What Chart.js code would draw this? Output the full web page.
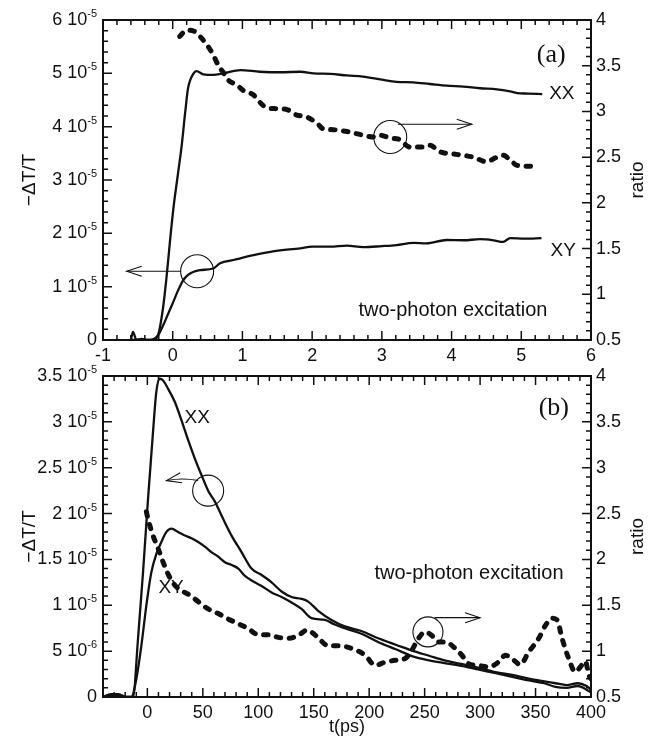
<!DOCTYPE html>
<html>
<head>
<meta charset="utf-8">
<script src="https://cdn.jsdelivr.net/npm/chart.js@4.4.1/dist/chart.umd.min.js"></script>
<style>
  body { margin: 0; background: #fff; }
  #wrap { position: relative; width: 665px; height: 743px; }
  canvas { position: absolute; left: 0; }
  #top { top: 0; }
  #bottom { top: 356px; }
</style>
</head>
<body>
<div id="wrap">
  <canvas id="top" width="665" height="372"></canvas>
  <canvas id="bottom" width="665" height="387"></canvas>
</div>
<script>
// panel (a): t in ps, -dT/T in units of 1e-5, ratio on right axis
const topXxT = [-0.6, -0.57, -0.52, -0.45, -0.35, -0.28, -0.21, -0.14, -0.09, -0.04, 0.01, 0.08, 0.13, 0.18, 0.22, 0.30, 0.34, 0.44, 0.58, 0.73, 0.97, 1.25, 1.55, 1.83, 2.02, 2.26, 2.5, 2.73, 3.0, 3.21, 3.45, 3.69, 3.93, 4.17, 4.41, 4.65, 4.84, 4.94, 5.1, 5.3];
const topXxV = [0, 0.15, 0, 0.02, 0, 0, 0.09, 0.59, 1.16, 1.84, 2.47, 3.16, 3.66, 4.28, 4.72, 5.0, 5.04, 4.98, 4.97, 5.0, 5.06, 5.03, 5.02, 5.03, 5.0, 4.99, 4.96, 4.94, 4.88, 4.84, 4.83, 4.80, 4.77, 4.75, 4.72, 4.70, 4.66, 4.63, 4.62, 4.61];
const topXyT = [-0.6, -0.5, -0.4, -0.33, -0.21, -0.135, -0.063, 0.01, 0.08, 0.15, 0.22, 0.30, 0.39, 0.58, 0.68, 0.87, 1.16, 1.44, 1.83, 2.0, 2.26, 2.5, 2.73, 3.0, 3.21, 3.45, 3.64, 3.93, 4.17, 4.41, 4.6, 4.74, 4.84, 5.05, 5.29];
const topXyV = [0, 0, 0, 0, 0.09, 0.28, 0.5, 0.72, 0.94, 1.12, 1.22, 1.28, 1.31, 1.34, 1.44, 1.5, 1.59, 1.66, 1.72, 1.75, 1.75, 1.77, 1.74, 1.76, 1.78, 1.82, 1.81, 1.875, 1.87, 1.89, 1.87, 1.84, 1.91, 1.90, 1.91];
const topRatioT = [0.1, 0.2, 0.3, 0.39, 0.49, 0.58, 0.65, 0.73, 0.8, 0.92, 1.01, 1.16, 1.25, 1.35, 1.49, 1.64, 1.78, 1.92, 2.07, 2.16, 2.3, 2.5, 2.73, 2.88, 2.97, 3.12, 3.26, 3.4, 3.6, 3.69, 3.83, 4.07, 4.31, 4.5, 4.65, 4.74, 4.84, 4.94, 5.13, 5.22];
const topRatioV = [3.82, 3.89, 3.88, 3.82, 3.73, 3.62, 3.51, 3.42, 3.34, 3.29, 3.23, 3.18, 3.10, 3.04, 3.03, 3.02, 2.96, 2.94, 2.87, 2.81, 2.80, 2.78, 2.74, 2.72, 2.74, 2.71, 2.69, 2.61, 2.61, 2.63, 2.56, 2.53, 2.50, 2.45, 2.50, 2.52, 2.47, 2.41, 2.40, 2.39];

// panel (b)
const botXxT = [-40, -33, -26, -19, -13, -8.4, -3.9, 0.6, 5.1, 8.1, 11.2, 14.2, 18.7, 24.7, 30.7, 36.8, 42.8, 48.8, 54.8, 60.9, 68.4, 75.9, 84.9, 93.9, 103, 112, 121, 130, 139, 145, 154, 166, 178, 193, 208, 224, 240, 254, 268, 283, 298, 314, 329, 344, 358, 368, 378, 388, 396, 400];
const botXxV = [0, 0.03, 0.03, 0, 0, 0.64, 1.36, 2.16, 2.89, 3.33, 3.47, 3.45, 3.36, 3.22, 3.02, 2.80, 2.60, 2.42, 2.25, 2.13, 1.94, 1.76, 1.58, 1.40, 1.33, 1.25, 1.15, 1.09, 1.07, 1.04, 0.94, 0.84, 0.77, 0.72, 0.64, 0.57, 0.50, 0.45, 0.40, 0.36, 0.32, 0.27, 0.24, 0.2, 0.17, 0.15, 0.13, 0.15, 0.12, 0.08];
const botXyT = [-40, -30, -20, -14.4, -9.9, -5.4, -0.9, 3.6, 8.1, 12.6, 17.2, 21.7, 27.7, 33.8, 39.8, 45.8, 51.8, 57.8, 63.9, 69.9, 75.9, 82, 88, 94, 103, 112, 121, 130, 139, 148, 160, 169, 178, 193, 208, 224, 240, 254, 268, 283, 298, 314, 329, 344, 358, 368, 378, 388, 396, 400];
const botXyV = [0, 0.02, 0, 0, 0.2, 0.56, 1.0, 1.36, 1.56, 1.69, 1.80, 1.835, 1.80, 1.76, 1.73, 1.69, 1.64, 1.58, 1.53, 1.47, 1.44, 1.40, 1.32, 1.27, 1.21, 1.14, 1.09, 1.03, 0.96, 0.86, 0.84, 0.79, 0.75, 0.69, 0.6, 0.52, 0.44, 0.40, 0.37, 0.34, 0.30, 0.26, 0.22, 0.18, 0.15, 0.11, 0.1, 0.12, 0.08, 0.05];
const botRatioT = [-0.9, 0.6, 5.1, 9.7, 14.2, 18.7, 24.7, 30.7, 38.3, 45.8, 54.8, 63.9, 72.9, 81.9, 91, 100, 109, 118, 127, 136, 144, 150, 156, 163, 172, 184, 196.4, 205.4, 214.4, 223.4, 232.5, 238.5, 244.5, 250.5, 256.5, 262.6, 268.6, 277.6, 283.6, 289.6, 298.7, 307.7, 316.7, 322.8, 328.8, 336.3, 343.8, 352.9, 358.9, 364.9, 369.4, 373.9, 379.9, 385.9, 390.4, 394.9, 398, 400];
const botRatioV = [2.52, 2.44, 2.26, 2.12, 1.97, 1.84, 1.72, 1.66, 1.61, 1.54, 1.46, 1.41, 1.35, 1.30, 1.245, 1.18, 1.18, 1.15, 1.14, 1.17, 1.23, 1.19, 1.12, 1.06, 1.06, 1.03, 0.955, 0.845, 0.88, 0.9, 0.92, 1.01, 1.14, 1.21, 1.17, 1.1, 1.1, 1.03, 0.955, 0.864, 0.845, 0.827, 0.882, 0.955, 0.918, 0.853, 0.99, 1.14, 1.28, 1.36, 1.34, 1.14, 0.918, 0.773, 0.827, 0.89, 0.74, 0.7];

// tick values and labels ('^' marks the power of ten)
const topXTicks = [-1, 0, 1, 2, 3, 4, 5, 6];
const topXLabels = ['-1', '0', '1', '2', '3', '4', '5', '6'];
const topLeftTicks = [0, 1, 2, 3, 4, 5, 6];
const topLeftLabels = ['0', '1 10^-5', '2 10^-5', '3 10^-5', '4 10^-5', '5 10^-5', '6 10^-5'];
const botXTicks = [0, 50, 100, 150, 200, 250, 300, 350, 400];
const botXLabels = ['0', '50', '100', '150', '200', '250', '300', '350', '400'];
const botLeftTicks = [0, 0.5, 1, 1.5, 2, 2.5, 3, 3.5];
const botLeftLabels = ['0', '5 10^-6', '1 10^-5', '1.5 10^-5', '2 10^-5', '2.5 10^-5', '3 10^-5', '3.5 10^-5'];
const ratioTicks = [0.5, 1, 1.5, 2, 2.5, 3, 3.5, 4];
const ratioLabels = ['0.5', '1', '1.5', '2', '2.5', '3', '3.5', '4'];

const INK = '#111';
const SANS = '"Liberation Sans", Arial, Helvetica, sans-serif';
const SERIF = '"Liberation Serif", "Times New Roman", serif';
Chart.defaults.font.family = SANS;
Chart.defaults.color = INK;

// annotations, placed in data units
const topNotes = {
  texts: [
    { x: 5.43, y: 3.61, axis: 'ratio', text: '(a)', font: '26px ' + SERIF, align: 'center' },
    { x: 5.40, y: 4.61, axis: 'y', text: 'XX', font: '19px ' + SANS, align: 'left' },
    { x: 5.42, y: 1.67, axis: 'y', text: 'XY', font: '19px ' + SANS, align: 'left' },
    { x: 4.02, y: 0.56, axis: 'y', text: 'two-photon excitation', font: '20px ' + SANS, align: 'center' }
  ],
  circles: [
    { x: 0.35, y: 1.29, axis: 'y', r: 16.5 },
    { x: 3.12, y: 2.72, axis: 'ratio', r: 16.5 }
  ],
  arrows: [
    { x1: 0.12, y1: 1.29, x2: -0.66, y2: 1.29, axis: 'y', bend: 0 },
    { x1: 3.23, y1: 2.86, x2: 4.29, y2: 2.86, axis: 'ratio', bend: 0 }
  ]
};
const botNotes = {
  texts: [
    { x: 366.5, y: 3.65, axis: 'ratio', text: '(b)', font: '26px ' + SERIF, align: 'center' },
    { x: 45, y: 3.05, axis: 'y', text: 'XX', font: '19px ' + SANS, align: 'center' },
    { x: 21.4, y: 1.19, axis: 'y', text: 'XY', font: '19px ' + SANS, align: 'center' },
    { x: 290, y: 1.35, axis: 'y', text: 'two-photon excitation', font: '20px ' + SANS, align: 'center' }
  ],
  circles: [
    { x: 54.8, y: 2.25, axis: 'y', r: 15.5 },
    { x: 253, y: 1.21, axis: 'ratio', r: 15 }
  ],
  arrows: [
    { x1: 45.8, y1: 2.36, x2: 17.2, y2: 2.36, axis: 'y', bend: -3 },
    { x1: 259, y1: 1.365, x2: 300, y2: 1.365, axis: 'ratio', bend: 0 }
  ]
};

function pts(xs, ys) {
  return xs.map((x, i) => ({ x: x, y: ys[i] }));
}

function isMajor(v, major) {
  const q = v / major;
  return Math.abs(q - Math.round(q)) < 1e-6;
}

// inward ticks along one side of the plot box
function tickRun(ctx, scale, minor, major, draw) {
  const n = Math.round((scale.max - scale.min) / minor);
  for (let k = 0; k <= n; k++) {
    const v = scale.min + k * minor;
    draw(scale.getPixelForValue(v), isMajor(v, major) ? 9 : 5);
  }
}

function drawSci(ctx, label, xr, y) {
  const [base, exp] = label.split('^');
  ctx.textBaseline = 'middle';
  ctx.textAlign = 'right';
  let x = xr;
  if (exp) {
    ctx.font = '11px ' + SANS;
    ctx.fillText(exp, x, y - 6);
    x -= ctx.measureText(exp).width;
  }
  ctx.font = '18px ' + SANS;
  ctx.fillText(base, x, y);
}

function drawArrow(ctx, x1, y1, x2, y2, bend) {
  const cx = (x1 + x2) / 2, cy = (y1 + y2) / 2 + bend;
  ctx.beginPath();
  ctx.moveTo(x1, y1);
  ctx.quadraticCurveTo(cx, cy, x2, y2);
  ctx.stroke();
  const ang = Math.atan2(y2 - cy, x2 - cx);
  const ux = Math.cos(ang), uy = Math.sin(ang), L = 15, W = 5;
  ctx.beginPath();
  ctx.moveTo(x2 - L * ux + W * uy, y2 - L * uy - W * ux);
  ctx.lineTo(x2, y2);
  ctx.lineTo(x2 - L * ux - W * uy, y2 - L * uy + W * ux);
  ctx.stroke();
}

const framePlugin = {
  id: 'frame',
  afterDatasetsDraw(chart, args, o) {
    const ctx = chart.ctx, a = chart.chartArea, s = chart.scales;
    ctx.save();
    ctx.strokeStyle = INK;
    ctx.fillStyle = INK;

    ctx.lineWidth = 1.5;
    ctx.beginPath();
    tickRun(ctx, s.x, o.xMinor, o.xMajor, (p, len) => {
      ctx.moveTo(p, a.bottom); ctx.lineTo(p, a.bottom - len);
      ctx.moveTo(p, a.top); ctx.lineTo(p, a.top + len);
    });
    tickRun(ctx, s.y, o.yMinor, o.yMajor, (p, len) => {
      ctx.moveTo(a.left, p); ctx.lineTo(a.left + len, p);
    });
    tickRun(ctx, s.ratio, 0.1, 0.5, (p, len) => {
      ctx.moveTo(a.right, p); ctx.lineTo(a.right - len, p);
    });
    ctx.stroke();

    ctx.lineWidth = 2;
    ctx.strokeRect(a.left, a.top, a.right - a.left, a.bottom - a.top);

    // left tick labels with powers of ten
    o.leftTicks.forEach((v, i) => drawSci(ctx, o.leftLabels[i], a.left - 6, s.y.getPixelForValue(v)));

    // right axis title, reading bottom to top
    ctx.save();
    ctx.translate(638, (a.top + a.bottom) / 2);
    ctx.rotate(-Math.PI / 2);
    ctx.font = '19px ' + SANS;
    ctx.textAlign = 'center';
    ctx.textBaseline = 'middle';
    ctx.fillText('ratio', 0, 0);
    ctx.restore();

    // circles, arrows and labels
    const notes = o.notes;
    ctx.lineWidth = 1.1;
    notes.circles.forEach(c => {
      ctx.beginPath();
      ctx.arc(s.x.getPixelForValue(c.x), s[c.axis].getPixelForValue(c.y), c.r, 0, Math.PI * 2);
      ctx.stroke();
    });
    notes.arrows.forEach(ar => {
      drawArrow(ctx, s.x.getPixelForValue(ar.x1), s[ar.axis].getPixelForValue(ar.y1),
        s.x.getPixelForValue(ar.x2), s[ar.axis].getPixelForValue(ar.y2), ar.bend);
    });
    notes.texts.forEach(t => {
      ctx.font = t.font;
      ctx.textAlign = t.align;
      ctx.textBaseline = 'middle';
      ctx.fillText(t.text, s.x.getPixelForValue(t.x), s[t.axis].getPixelForValue(t.y));
    });
    ctx.restore();
  }
};

function solid(data) {
  return { data: data, yAxisID: 'y', borderColor: INK, borderWidth: 2.3, pointRadius: 0, cubicInterpolationMode: 'monotone', fill: false };
}
function dashed(data) {
  return { data: data, yAxisID: 'ratio', borderColor: INK, borderWidth: 5, borderDash: [4.5, 8.5], borderCapStyle: 'round', pointRadius: 0, cubicInterpolationMode: 'monotone', fill: false };
}

function setTicks(values) {
  return scale => { scale.ticks = values.map(v => ({ value: v })); };
}

function makePanel(id, cfg) {
  return new Chart(document.getElementById(id), {
    type: 'line',
    data: { datasets: cfg.datasets },
    options: {
      responsive: false,
      animation: false,
      devicePixelRatio: 1,
      layout: { padding: { top: 20, left: 0, right: 0, bottom: 0 } },
      plugins: {
        legend: { display: false },
        tooltip: { enabled: false },
        frame: cfg.frame
      },
      scales: {
        x: {
          type: 'linear', position: 'bottom', min: cfg.xMin, max: cfg.xMax,
          afterBuildTicks: setTicks(cfg.xTicks),
          afterFit: sc => { sc.height = cfg.xHeight; },
          grid: { display: false, drawTicks: false },
          border: { display: false },
          ticks: { font: { size: 18 }, color: INK, padding: 5, maxRotation: 0, autoSkip: false,
            callback: v => cfg.xLabels[cfg.xTicks.indexOf(v)] },
          title: cfg.xTitle
        },
        y: {
          type: 'linear', position: 'left', min: cfg.yMin, max: cfg.yMax,
          afterBuildTicks: setTicks(cfg.frame.leftTicks),
          afterFit: sc => { sc.width = 103; },
          grid: { display: false, drawTicks: false },
          border: { display: false },
          ticks: { display: false },
          title: { display: true, text: '\u2212\u0394T/T', font: { size: 19 }, color: INK, padding: { top: 18.6, bottom: 0 } }
        },
        ratio: {
          axis: 'y', type: 'linear', position: 'right', min: 0.5, max: 4,
          afterBuildTicks: setTicks(ratioTicks),
          afterFit: sc => { sc.width = 74; },
          grid: { display: false, drawTicks: false },
          border: { display: false },
          ticks: { font: { size: 18 }, color: INK, padding: 5,
            callback: v => ratioLabels[ratioTicks.indexOf(v)] }
        }
      }
    },
    plugins: [framePlugin]
  });
}

makePanel('top', {
  datasets: [solid(pts(topXxT, topXxV)), solid(pts(topXyT, topXyV)), dashed(pts(topRatioT, topRatioV))],
  xMin: -1, xMax: 6, xTicks: topXTicks, xLabels: topXLabels, xHeight: 32,
  xTitle: { display: false },
  yMin: 0, yMax: 6,
  frame: { xMinor: 0.2, xMajor: 1, yMinor: 0.2, yMajor: 1, leftTicks: topLeftTicks, leftLabels: topLeftLabels, notes: topNotes }
});

makePanel('bottom', {
  datasets: [solid(pts(botXxT, botXxV)), solid(pts(botXyT, botXyV)), dashed(pts(botRatioT, botRatioV))],
  xMin: -40, xMax: 400, xTicks: botXTicks, xLabels: botXLabels, xHeight: 46,
  xTitle: { display: true, text: 't(ps)', font: { size: 18 }, color: INK, padding: { top: 0, bottom: 5 } },
  yMin: 0, yMax: 3.5,
  frame: { xMinor: 10, xMajor: 50, yMinor: 0.1, yMajor: 0.5, leftTicks: botLeftTicks, leftLabels: botLeftLabels, notes: botNotes }
});
</script>
</body>
</html>
